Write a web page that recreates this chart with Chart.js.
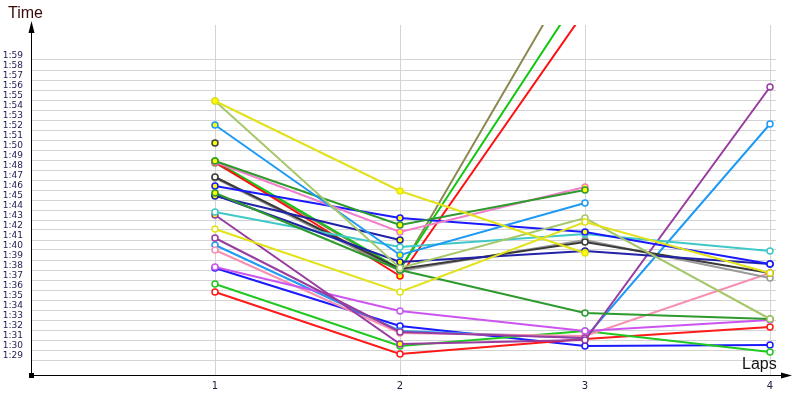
<!DOCTYPE html>
<html><head><meta charset="utf-8">
<script src="https://cdn.jsdelivr.net/npm/chart.js@4/dist/chart.umd.min.js"></script>
<style>html,body{margin:0;padding:0;background:#fff}</style>
</head><body>
<canvas id="c" width="800" height="400"></canvas>
<script>
// ---- data (lap times in seconds) ----
const laps = [1, 2, 3, 4];
const yTickValues = [89,90,91,92,93,94,95,96,97,98,99,100,101,102,103,104,105,106,107,108,109,110,111,112,113,114,115,116,117,118,119];

const yellowA    = [114.9, 105.9, 99.7, null];
const yellowB    = [102.1, 95.8, 102.8, 97.7];
const lightGreen = [114.9, 98.2, 103.2, 93.1];
const dodgerA    = [112.5, 99.5, 104.7, null];
const darkSingle = [110.7, null, null, null];
const darkGreenA = [108.9, 102.5, 106.0, null];
const darkGreenB = [105.7, 98.0, 93.7, 93.1];
const pinkA      = [108.8, 101.8, 106.3, null];
const redA       = [108.8, 97.4, 123.9, null];
const greenA     = [108.9, 98.1, 126.3, null];
const olive      = [108.7, 98.0, 129.7, null];
const blackS     = [107.3, 98.1, 100.8, 97.7];
const grayS      = [107.2, 97.9, 101.0, 97.2];
const blueA      = [106.4, 103.2, 101.8, 98.6];
const navyA      = [105.4, 101.0, null, null];
const navyB      = [105.5, 98.8, 99.9, 98.6];
const cyanS      = [103.8, 100.3, 101.6, 99.9];
const purpleA    = [103.5, 90.6, 91.0, 116.3];
const purpleB    = [101.2, 91.8, 91.2, null];
const violet     = [98.3, 93.9, 91.9, 93.0];
const pinkB      = [100.0, 91.7, 91.4, 97.7];
const dodgerB    = [100.5, 91.9, 91.2, 112.6];
const greenB     = [96.6, 90.4, 91.9, 89.8];
const redB       = [95.8, 89.6, 91.1, 92.3];
const blueB      = [98.2, 92.4, 90.4, 90.5];

// ---- styles (kept apart from data) ----
const HL = '#ffff00';
const series = [
  {d: yellowA,    c: '#e2e21a', f: [1,1,1,0]},
  {d: yellowB,    c: '#e2e21a', f: [0,0,0,0]},
  {d: lightGreen, c: '#a6c76a', f: [1,0,0,0]},
  {d: dodgerA,    c: '#1e9af5', f: [1,1,0,0]},
  {d: darkSingle, c: '#404040', f: [1,0,0,0]},
  {d: darkGreenA, c: '#2e9a2e', f: [1,1,1,0]},
  {d: darkGreenB, c: '#2e9a2e', f: [1,0,0,0]},
  {d: pinkA,      c: '#f07fc8', f: [1,1,1,0]},
  {d: blueA,      c: '#1a1aff', f: [1,1,1,0]},
  {d: navyA,      c: '#2222a8', f: [1,1,0,0]},
  {d: navyB,      c: '#2222a8', f: [1,1,1,0]},
  {d: cyanS,      c: '#40c8c8', f: [0,0,0,0]},
  {d: blackS,     c: '#3a3a3a', f: [0,0,0,0]},
  {d: grayS,      c: '#9a9a9a', f: [0,0,0,0]},
  {d: redA,       c: '#ff1010', f: [1,1,0,0]},
  {d: greenA,     c: '#10c810', f: [1,1,0,0]},
  {d: olive,      c: '#8c8852', f: [1,0,0,0]},
  {d: purpleA,    c: '#983ca0', f: [1,1,0,0]},
  {d: purpleB,    c: '#983ca0', f: [0,0,0,0]},
  {d: violet,     c: '#cc55f0', f: [0,0,0,0]},
  {d: pinkB,      c: '#f790b0', f: [0,0,0,0]},
  {d: dodgerB,    c: '#1e9af5', f: [0,0,0,0]},
  {d: greenB,     c: '#22c822', f: [0,0,0,0]},
  {d: redB,       c: '#ff1a1a', f: [0,0,0,0]},
  {d: blueB,      c: '#1a1aff', f: [0,0,0,0]}
];

const datasets = series.map(s => ({
  data: laps.map((l, i) => ({x: l, y: s.d[i]})),
  borderColor: s.c,
  backgroundColor: s.c,
  borderWidth: 2,
  pointRadius: 3,
  pointHoverRadius: 3,
  pointBorderWidth: 1.5,
  pointBorderColor: s.c,
  pointBackgroundColor: s.f.map(v => v ? HL : '#ffffff'),
  tension: 0,
  fill: false,
  spanGaps: false
}));

function fmt(v) {
  const m = Math.floor(v / 60), s = Math.round(v - m * 60);
  return m + ':' + String(s).padStart(2, '0');
}

const decor = {
  id: 'decor',
  beforeDatasetsDraw(chart) {
    const ctx = chart.ctx, a = chart.chartArea;
    ctx.save();
    ctx.strokeStyle = '#000';
    ctx.fillStyle = '#000';
    ctx.lineWidth = 1;
    const x0 = Math.round(a.left) + 0.5, y0 = Math.round(a.bottom) + 0.5;
    ctx.beginPath();
    ctx.moveTo(x0, y0); ctx.lineTo(x0, 30);
    ctx.moveTo(x0, y0); ctx.lineTo(786, y0);
    ctx.stroke();
    ctx.beginPath();
    ctx.moveTo(x0, 21); ctx.lineTo(x0 - 3, 33); ctx.lineTo(x0 + 3, 33); ctx.closePath(); ctx.fill();
    ctx.beginPath();
    ctx.moveTo(792, y0); ctx.lineTo(781, y0 - 3); ctx.lineTo(781, y0 + 3); ctx.closePath(); ctx.fill();
    ctx.fillRect(x0 - 2.5, y0 - 2.5, 5, 5);
    ctx.restore();
  },
  afterDraw(chart) {
    const ctx = chart.ctx;
    ctx.save();
    ctx.font = '16px "Liberation Sans", Arial, sans-serif';
    ctx.textBaseline = 'middle';
    ctx.textAlign = 'left';
    ctx.fillStyle = '#3a0a0a';
    ctx.fillText('Time', 8, 14);
    ctx.fillStyle = '#111';
    ctx.fillText('Laps', 742, 365);
    ctx.restore();
  }
};

new Chart(document.getElementById('c'), {
  type: 'line',
  data: { datasets },
  options: {
    responsive: false,
    animation: false,
    events: [],
    layout: { padding: { top: 25, right: 24, left: 0, bottom: 0 } },
    plugins: { legend: { display: false }, tooltip: { enabled: false }, title: { display: false } },
    scales: {
      x: {
        type: 'linear',
        min: 1 - 184 / 185,
        max: 4 + 6 / 185,
        afterBuildTicks: s => { s.ticks = laps.map(v => ({value: v})); },
        afterFit: s => { s.height = 25; },
        grid: { color: '#d4d4d4', lineWidth: 1, drawTicks: false },
        border: { display: false },
        ticks: { autoSkip: false, color: '#202040', padding: 5, font: { family: '"DejaVu Sans", sans-serif', size: 10 }, callback: v => String(v) }
      },
      y: {
        type: 'linear',
        min: 87.5,
        max: 122.5,
        afterBuildTicks: s => { s.ticks = yTickValues.map(v => ({value: v})); },
        afterFit: s => { s.width = 31; },
        grid: { color: '#d4d4d4', lineWidth: 1, drawTicks: false },
        border: { display: false },
        ticks: { autoSkip: false, color: '#1c1c50', padding: 8, labelOffset: -4, font: { family: '"DejaVu Sans", sans-serif', size: 9 }, callback: v => fmt(v) }
      }
    }
  },
  plugins: [decor]
});
</script>
</body></html>
